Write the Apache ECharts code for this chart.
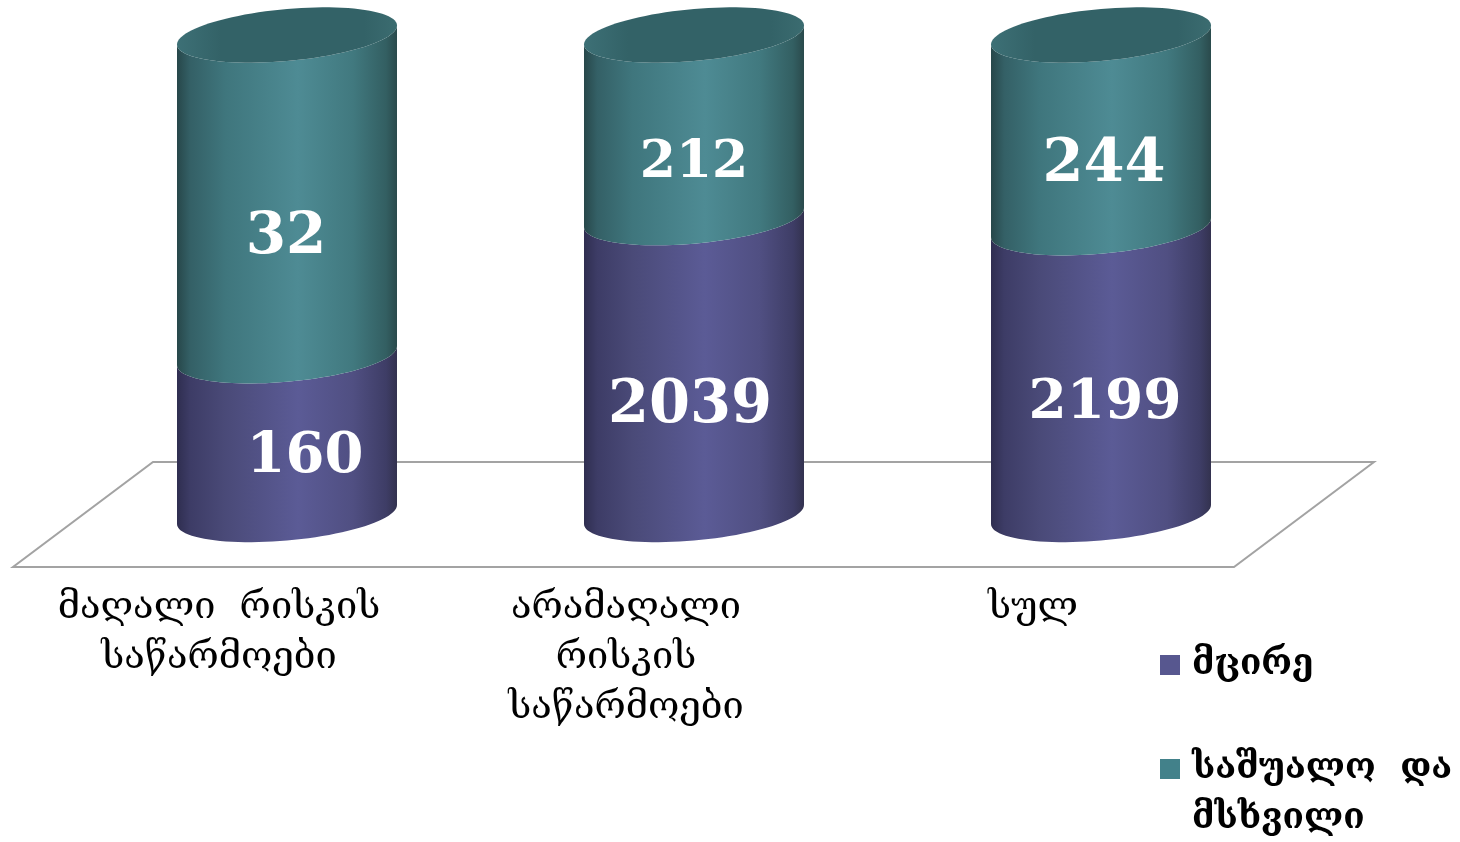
<!DOCTYPE html>
<html>
<head>
<meta charset="utf-8">
<style>html,body{margin:0;padding:0;background:#fff}#c{width:1460px;height:842px}</style>
<script src="https://cdn.jsdelivr.net/npm/echarts@6/dist/echarts.min.js"></script>
</head>
<body>
<div id="c"></div>
<script>
const categories = ["მაღალი  რისკის\nსაწარმოები", "არამაღალი\nრისკის\nსაწარმოები", "სულ"];
const seriesNames = ["მცირე", "საშუალო  და\nმსხვილი"];
// printed figures
const smallLabels = [160, 2039, 2199];
const mediumLargeLabels = [32, 212, 244];
// drawn height of each segment, as share of cylinder height
const smallHeights = [33.1, 61.9, 59.8];
const mediumLargeHeights = [66.9, 38.1, 40.2];

const FONT = '"DejaVu Serif", "DejaVu Sans", serif';
const labelLook = {
  small: [{dx: 18, dy: 22, size: 56}, {dx: -4, dy: 41, size: 59}, {dx: 4, dy: 33, size: 55}],
  mediumLarge: [{dx: -1, dy: 43, size: 58}, {dx: 0, dy: 37, size: 52}, {dx: 3, dy: 34, size: 59}]
};
const HALF_W = 110, RISE = 9.5, B = 26;

function grad(stops) {
  return {type: 'linear', x: 0, y: 0, x2: 1, y2: 0,
    colorStops: stops.map(s => ({offset: s[0], color: s[1]}))};
}
const looks = {
  small: {
    legend: '#57578f',
    side: grad([[0, '#2f2e50'], [0.06, '#3d3c66'], [0.22, '#4a4a78'], [0.55, '#5b5b96'], [0.8, '#504f82'], [0.95, '#3e3d66'], [1, '#33324f']])
  },
  mediumLarge: {
    legend: '#42818a',
    side: grad([[0, '#27474a'], [0.06, '#346066'], [0.22, '#3f767d'], [0.55, '#4e8b94'], [0.8, '#41797f'], [0.95, '#335f62'], [1, '#2a4a4c']]),
    cap: {type: 'linear', x: 0, y: 0.5, x2: 1, y2: 0.5, colorStops: [
      {offset: 0, color: '#3d7076'}, {offset: 0.2, color: '#336267'}, {offset: 0.85, color: '#336267'}, {offset: 1, color: '#3b6c70'}]}
  }
};

function frontArc(cx, cy, reverse) {
  const pts = [];
  for (let i = 0; i <= 48; i++) {
    const t = Math.PI * (reverse ? 48 - i : i) / 48;
    pts.push([cx + HALF_W * Math.cos(t), cy + B * Math.sin(t) - RISE * Math.cos(t)]);
  }
  return pts;
}
function ellipse(cx, cy) {
  const pts = [];
  for (let i = 0; i < 96; i++) {
    const t = 2 * Math.PI * i / 96;
    pts.push([cx + HALF_W * Math.cos(t), cy + B * Math.sin(t) - RISE * Math.cos(t)]);
  }
  return pts;
}

function makeRender(key, isTop) {
  const texts = key === 'small' ? smallLabels : mediumLargeLabels;
  return function (params, api) {
    const i = api.value(0), y0 = api.value(1), y1 = api.value(2);
    const p0 = api.coord([i, y0]), p1 = api.coord([i, y1]);
    const cx = p0[0];
    const side = frontArc(cx, p0[1], false).concat(frontArc(cx, p1[1], true));
    const children = [{type: 'polygon', shape: {points: side}, style: {fill: looks[key].side}}];
    if (isTop) {
      children.push({type: 'polygon', shape: {points: ellipse(cx, p1[1])}, style: {fill: looks[key].cap}});
    }
    const lk = labelLook[key][i];
    children.push({
      type: 'text',
      style: {
        text: String(texts[i]), x: cx + lk.dx, y: (p0[1] + p1[1]) / 2 + lk.dy,
        align: 'center', verticalAlign: 'middle', fill: '#fff',
        font: 'bold ' + lk.size + 'px "DejaVu Serif", serif'
      }
    });
    return {type: 'group', children};
  };
}

const smallData = categories.map((c, i) => [i, 0, smallHeights[i]]);
const upperData = categories.map((c, i) => [i, smallHeights[i], smallHeights[i] + mediumLargeHeights[i]]);

const legendBase = {
  orient: 'vertical', left: 1160, padding: 0, itemWidth: 27, itemHeight: 20,
  icon: 'path://M0 0H20V20H0Z M27 0L27 20', selectedMode: false,
  textStyle: {color: '#000', fontFamily: FONT, fontSize: 35, fontWeight: 'bold', lineHeight: 50}
};

const chart = echarts.init(document.getElementById('c'), null, {renderer: 'canvas', width: 1460, height: 842});
chart.setOption({
  animation: false,
  backgroundColor: '#fff',
  grid: {left: 83.5, width: 1221, top: 35, height: 479.5, containLabel: false},
  xAxis: {
    type: 'category', data: categories,
    axisLine: {show: false}, axisTick: {show: false}, splitLine: {show: false},
    axisLabel: {
      interval: 0, margin: 69, color: '#000', fontFamily: FONT, fontSize: 38, lineHeight: 50,
      align: 'center', verticalAlign: 'top', padding: [0, 136, 0, 0]
    }
  },
  yAxis: {type: 'value', min: 0, max: 100, show: false},
  legend: [
    Object.assign({}, legendBase, {top: 640, data: [{name: seriesNames[0]}]}),
    // the blank first line keeps the swatch level with the entry's first line
    Object.assign({}, legendBase, {top: 694, data: [{name: seriesNames[1]}], formatter: n => '\n' + n})
  ],
  graphic: [{
    type: 'polygon', silent: true, z: 0,
    shape: {points: [[13, 567], [1234, 567], [1374, 462], [153, 462]]},
    style: {fill: 'none', stroke: '#a3a3a3', lineWidth: 2}
  }],
  series: [
    {type: 'custom', name: seriesNames[0], data: smallData, encode: {x: 0, y: [1, 2]},
     itemStyle: {color: looks.small.legend}, renderItem: makeRender('small', false), z: 3},
    {type: 'custom', name: seriesNames[1], data: upperData, encode: {x: 0, y: [1, 2]},
     itemStyle: {color: looks.mediumLarge.legend}, renderItem: makeRender('mediumLarge', true), z: 4}
  ]
});
</script>
</body>
</html>
